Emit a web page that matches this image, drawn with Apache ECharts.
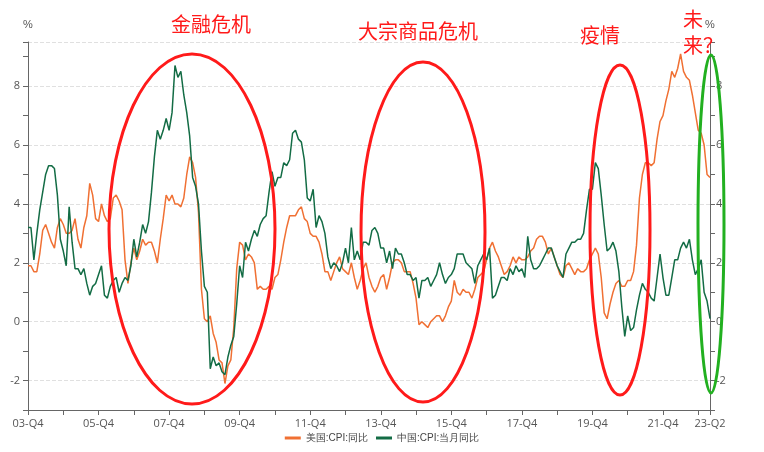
<!DOCTYPE html>
<html>
<head>
<meta charset="utf-8">
<script src="https://cdn.jsdelivr.net/npm/echarts@6/dist/echarts.min.js"></script>
<style>
  * { margin: 0; padding: 0; }
  #container { width: 764px; height: 452px; background: #fff; }
</style>
</head>
<body>
<div id="container"></div>
<script>
// 月度数据 2003-12 ~ 2023-04
var startYear = 2003, startMonth = 12;
var usCpi = [1.9,
  1.9,1.7,1.7,2.3,3.1,3.3,3.0,2.7,2.5,3.2,3.5,3.3,
  3.0,3.0,3.1,3.5,2.8,2.5,3.2,3.6,4.7,4.3,3.5,3.4,
  4.0,3.6,3.4,3.5,4.2,4.3,4.1,3.8,2.1,1.3,2.0,2.5,
  2.1,2.4,2.8,2.6,2.7,2.7,2.4,2.0,2.8,3.5,4.3,4.1,
  4.3,4.0,4.0,3.9,4.2,5.0,5.6,5.4,4.9,3.7,1.1,0.1,
  0.0,0.2,-0.4,-0.7,-1.3,-1.4,-2.1,-1.5,-1.3,-0.2,1.8,2.7,
  2.6,2.1,2.3,2.2,2.0,1.1,1.2,1.1,1.1,1.2,1.1,1.5,
  1.6,2.1,2.7,3.2,3.6,3.6,3.6,3.8,3.9,3.5,3.4,3.0,
  2.9,2.9,2.7,2.3,1.7,1.7,1.4,1.7,2.0,2.2,1.8,1.7,
  1.6,2.0,1.5,1.1,1.4,1.8,2.0,1.5,1.2,1.0,1.2,1.5,
  1.6,1.1,1.5,2.0,2.1,2.1,2.0,1.7,1.7,1.7,1.3,0.8,
  -0.1,0.0,-0.1,-0.2,0.0,0.1,0.2,0.2,0.0,0.2,0.5,0.7,
  1.4,1.0,0.9,1.1,1.0,1.0,0.8,1.1,1.5,1.6,1.7,2.1,
  2.5,2.7,2.4,2.2,1.9,1.6,1.7,1.9,2.2,2.0,2.2,2.1,
  2.1,2.2,2.4,2.5,2.8,2.9,2.9,2.7,2.3,2.5,2.2,1.9,
  1.6,1.5,1.9,2.0,1.8,1.6,1.8,1.7,1.7,1.8,2.1,2.3,
  2.5,2.3,1.5,0.3,0.1,0.6,1.0,1.3,1.4,1.2,1.2,1.4,
  1.4,1.7,2.6,4.2,5.0,5.4,5.4,5.3,5.4,6.2,6.8,7.0,
  7.5,7.9,8.5,8.3,8.6,9.1,8.5,8.3,8.2,7.7,7.1,6.5,
  6.4,6.0,5.0,4.9];
var cnCpi = [3.2,
  3.2,2.1,3.0,3.8,4.4,5.0,5.3,5.3,5.2,4.3,2.8,2.4,
  1.9,3.9,2.7,1.8,1.8,1.6,1.8,1.3,0.9,1.2,1.3,1.6,
  1.9,0.9,0.8,1.2,1.4,1.5,1.0,1.3,1.5,1.4,1.9,2.8,
  2.2,2.7,3.3,3.0,3.4,4.4,5.6,6.5,6.2,6.5,6.9,6.5,
  7.1,8.7,8.3,8.5,7.7,7.1,6.3,4.9,4.6,4.0,2.4,1.2,
  1.0,-1.6,-1.2,-1.5,-1.4,-1.7,-1.8,-1.2,-0.8,-0.5,0.6,1.9,
  1.5,2.7,2.4,2.8,3.1,2.9,3.3,3.5,3.6,4.4,5.1,4.6,
  4.9,4.9,5.4,5.3,5.5,6.4,6.5,6.2,6.1,5.5,4.2,4.1,
  4.5,3.2,3.6,3.4,3.0,2.2,1.8,2.0,1.9,1.7,2.0,2.5,
  2.0,3.2,2.1,2.4,2.1,2.7,2.7,2.6,3.1,3.2,3.0,2.5,
  2.5,2.0,2.4,1.8,2.5,2.3,2.3,2.0,1.6,1.6,1.4,1.5,
  0.8,1.4,1.4,1.5,1.2,1.4,1.6,2.0,1.6,1.3,1.5,1.6,
  1.8,2.3,2.3,2.3,2.0,1.9,1.8,1.3,1.9,2.1,2.3,2.1,
  2.5,0.8,0.9,1.2,1.5,1.5,1.4,1.8,1.6,1.9,1.7,1.8,
  1.5,2.9,2.1,1.8,1.8,1.9,2.1,2.3,2.5,2.5,2.2,1.9,
  1.7,1.5,2.3,2.5,2.7,2.7,2.8,2.8,3.0,3.8,4.5,4.5,
  5.4,5.2,4.3,3.3,2.4,2.5,2.7,2.4,1.7,0.5,-0.5,0.2,
  -0.3,-0.2,0.4,0.9,1.3,1.1,1.0,0.8,0.7,1.5,2.3,1.5,
  0.9,0.9,1.5,2.1,2.1,2.5,2.7,2.5,2.8,2.1,1.6,1.8,
  2.1,1.0,0.7,0.1];

// 季度标签，如 03-Q4
var categories = [];
for (var i = 0; i < usCpi.length; i++) {
    var m = startMonth - 1 + i;
    var y = startYear + Math.floor(m / 12);
    var mon = m % 12 + 1;
    categories.push(String(y).slice(2) + '-Q' + Math.ceil(mon / 3));
}
var lastIdx = categories.length - 1;

var axisFont = { color: '#555', fontSize: 11, fontFamily: 'Open Sans' };
var yCommon = {
    type: 'value', min: -3, max: 9.5, interval: 1,
    name: '%', nameGap: 12, nameTextStyle: { color: '#555', fontSize: 11 },
    axisLine: { show: true, lineStyle: { color: '#666' } },
    axisTick: { show: true, lineStyle: { color: '#666' } },
    axisLabel: Object.assign({ formatter: function (v) { return v % 2 === 0 ? v : ''; } }, axisFont),
    splitLine: { show: true, lineStyle: { color: ['transparent', '#e0e0e0'], type: 'dashed' } }
};

var myChart = echarts.init(document.getElementById('container'));
var red = '#ff1a1a';
myChart.setOption({
    animation: false,
    grid: { left: 28, right: 54, top: 42, bottom: 42 },
    legend: {
        bottom: 4, itemWidth: 16, itemHeight: 3, icon: 'rect',
        textStyle: { color: '#444', fontSize: 10 },
        data: ['美国:CPI:同比', '中国:CPI:当月同比']
    },
    xAxis: {
        type: 'category', data: categories, boundaryGap: false,
        axisLine: { onZero: false, lineStyle: { color: '#666' } },
        axisTick: { interval: function (i) { return i % 12 === 0 || i === lastIdx; }, lineStyle: { color: '#666' } },
        axisLabel: Object.assign({ interval: function (i) { return i % 24 === 0 || i === lastIdx; } }, axisFont)
    },
    yAxis: [
        Object.assign({}, yCommon, { nameLocation: 'end' }),
        Object.assign({}, yCommon, { position: 'right', splitLine: { show: false },
            axisLabel: Object.assign({}, yCommon.axisLabel, { margin: 6 }) })
    ],
    series: [
        { name: '美国:CPI:同比', type: 'line', data: usCpi, symbol: 'none',
          lineStyle: { width: 1.5, color: '#f07033' }, itemStyle: { color: '#f07033' } },
        { name: '中国:CPI:当月同比', type: 'line', data: cnCpi, symbol: 'none',
          lineStyle: { width: 1.5, color: '#136c45' }, itemStyle: { color: '#136c45' } }
    ],
    graphic: [
        { type: 'ellipse', shape: { cx: 192, cy: 229, rx: 83, ry: 175 }, style: { fill: 'none', stroke: red, lineWidth: 3 }, z: 100 },
        { type: 'ellipse', shape: { cx: 423, cy: 232, rx: 62, ry: 170 }, style: { fill: 'none', stroke: red, lineWidth: 3 }, z: 100 },
        { type: 'ellipse', shape: { cx: 620, cy: 230, rx: 30, ry: 165 }, style: { fill: 'none', stroke: red, lineWidth: 3 }, z: 100 },
        { type: 'ellipse', shape: { cx: 711, cy: 224, rx: 13, ry: 169 }, style: { fill: 'none', stroke: '#22b020', lineWidth: 3 }, z: 100 },
        { type: 'text', left: 171, top: 14, style: { text: '金融危机', fill: red, font: '20px "Noto Sans CJK SC"' }, z: 100 },
        { type: 'text', left: 358, top: 21, style: { text: '大宗商品危机', fill: red, font: '20px "Noto Sans CJK SC"' }, z: 100 },
        { type: 'text', left: 580, top: 25, style: { text: '疫情', fill: red, font: '20px "Noto Sans CJK SC"' }, z: 100 },
        { type: 'text', left: 683, top: 6, style: { text: '未\n来？', fill: red, font: '20px "Noto Sans CJK SC"', lineHeight: 26 }, z: 100 }
    ]
});
</script>
</body>
</html>
